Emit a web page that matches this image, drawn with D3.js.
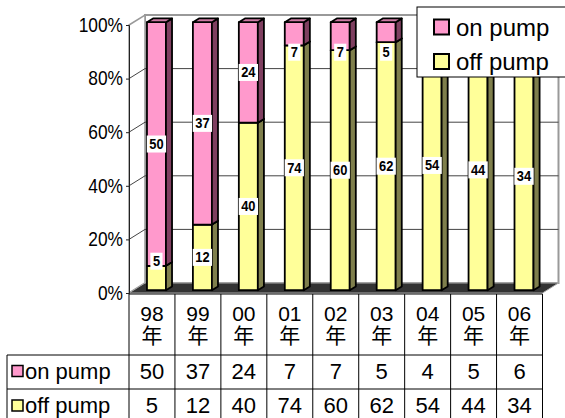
<!DOCTYPE html>
<html><head><meta charset="utf-8">
<script src="https://cdn.jsdelivr.net/npm/d3@7"></script>
<style>body{margin:0;background:#fff}svg{display:block}</style>
</head><body>
<script>
const categories = ["98","99","00","01","02","03","04","05","06"];
const yearSuffix = "年";
const onPump = [50,37,24,7,7,5,4,5,6];
const offPump = [5,12,40,74,60,62,54,44,34];
const yTicks = [0,20,40,60,80,100];
const seriesNames = ["on pump","off pump"];
const seriesColors = {front:["#FF99CC","#FFFF99"], side:["#7F3F60","#7F7F4C"], top:["#CC7AA3","#CCCC7A"]};

const W=565,H=418;
const FONT='"Liberation Sans", Arial, "Noto Sans CJK JP", sans-serif';
const svg=d3.select("body").append("svg").attr("width",W).attr("height",H)
  .style("font-family",FONT);

const x=d3.scaleBand().domain(categories).range([129,542.5]).padding(0);
const y=d3.scaleLinear().domain([0,100]).range([293,25]);
const D={dx:16,dy:-10};
const barW=19, fF=0.28, fB=0.66;
const legendBox={x:417,y:7,w:170,h:70};

const g=svg.append("g");
const bx0=129+D.dx, bx1=542.5+D.dx;
g.append("rect").attr("x",bx0).attr("y",y(100)+D.dy).attr("width",bx1-bx0).attr("height",y(0)-y(100))
 .attr("fill","#fff").attr("stroke","#999").attr("stroke-width",2);
g.append("polygon").attr("points",[[129,y(100)],[bx0,y(100)+D.dy],[bx0,y(0)+D.dy],[129,y(0)]].join(" "))
 .attr("fill","#fff").attr("stroke","#999").attr("stroke-width",1.5);
yTicks.filter(t=>t>0&&t<100).forEach(t=>{
  g.append("line").attr("x1",bx0).attr("x2",bx1).attr("y1",y(t)+D.dy).attr("y2",y(t)+D.dy).attr("stroke","#444").attr("stroke-width",1);
  g.append("line").attr("x1",129).attr("x2",bx0).attr("y1",y(t)).attr("y2",y(t)+D.dy).attr("stroke","#444").attr("stroke-width",1);
});
g.append("polygon").attr("points",[[129,y(0)],[542.5,y(0)],[bx1,y(0)+D.dy],[bx0,y(0)+D.dy]].join(" "))
 .attr("fill","#333").attr("stroke","#aaa").attr("stroke-width",1);

const ax=svg.append("g").attr("transform","translate(129,0)")
  .call(d3.axisLeft(y).tickValues(yTicks).tickFormat(d=>d+"%").tickSize(3).tickPadding(3));
ax.select(".domain").attr("stroke","#222");
ax.selectAll(".tick line").attr("stroke","#222");
ax.selectAll(".tick text").attr("font-size",19.5).attr("fill","#000").attr("font-family",FONT)
  .each(function(){const t=d3.select(this);const xx=+t.attr("x");t.attr("x",0).attr("transform",`translate(${xx},0) scale(0.89,1)`);});

const bars=svg.append("g");
const labels=[];
categories.forEach((c,i)=>{
  const total=onPump[i]+offPump[i];
  const segs=[{v:offPump[i],s:1,lo:0,hi:offPump[i]/total*100},{v:onPump[i],s:0,lo:offPump[i]/total*100,hi:100}];
  const fx=x(c)+(x.bandwidth()-barW)/2;
  segs.forEach((sg,k)=>{
    const ox=D.dx*fF, oy=D.dy*fF, bxx=D.dx*fB, byy=D.dy*fB;
    const x0=fx+ox, x1=fx+ox+barW, yT=y(sg.hi)+oy, yB=y(sg.lo)+oy;
    const dX=bxx-ox, dY=byy-oy;
    bars.append("rect").attr("x",x0).attr("y",yT).attr("width",barW).attr("height",yB-yT)
      .attr("fill",seriesColors.front[sg.s]).attr("stroke","#000").attr("stroke-width",1.8).attr("stroke-linejoin","round");
    bars.append("polygon").attr("points",[[x1,yT],[x1+dX,yT+dY],[x1+dX,yB+dY],[x1,yB]].join(" "))
      .attr("fill",seriesColors.side[sg.s]).attr("stroke","#000").attr("stroke-width",1.8).attr("stroke-linejoin","round");
    bars.append("polygon").attr("points",[[x0,yT],[x0+dX,yT+dY],[x1+dX,yT+dY],[x1,yT]].join(" "))
      .attr("fill",seriesColors.top[sg.s]).attr("stroke","#000").attr("stroke-width",1.8).attr("stroke-linejoin","round");
    let cy=(yT+yB)/2;
    if(k===1) cy=Math.max(cy,y(100)+oy+30); else cy=Math.min(cy,y(0)+oy-29);
    labels.push({x:(x0+x1)/2,y:cy,v:sg.v});
  });
});
const lg=svg.append("g");
labels.forEach(l=>{
  // labels falling under the legend box are hidden by it in the reference
  if(l.x>legendBox.x-12 && l.y<legendBox.y+legendBox.h+9) return;
  const gg=lg.append("g");
  const r=gg.append("rect").attr("fill","#fff");
  const t=gg.append("text").attr("transform",`translate(${l.x},${l.y}) scale(0.92,1)`).attr("text-anchor","middle").attr("dy","0.36em")
    .attr("font-size",14).attr("font-weight","bold").text(l.v);
  const tw=t.node().getComputedTextLength()*0.92;
  r.attr("x",l.x-tw/2-2.5).attr("y",l.y-8.5).attr("width",tw+5).attr("height",17);
});

const tb=svg.append("g").attr("stroke","#000").attr("stroke-width",1);
const tx0=7, txR=542.5, rowY=[294,355,389,424];
tb.append("line").attr("x1",129).attr("x2",txR).attr("y1",rowY[0]).attr("y2",rowY[0]);
tb.append("line").attr("x1",tx0).attr("x2",txR).attr("y1",rowY[1]).attr("y2",rowY[1]);
tb.append("line").attr("x1",tx0).attr("x2",txR).attr("y1",rowY[2]).attr("y2",rowY[2]);
tb.append("line").attr("x1",tx0).attr("x2",tx0).attr("y1",rowY[1]).attr("y2",H);
categories.forEach(c=>{tb.append("line").attr("x1",x(c)).attr("x2",x(c)).attr("y1",rowY[0]).attr("y2",H);});
tb.append("line").attr("x1",txR).attr("x2",txR).attr("y1",rowY[0]).attr("y2",H);

const tt=svg.append("g").attr("fill","#000");
categories.forEach(c=>{
  const cx=x(c)+x.bandwidth()/2;
  tt.append("text").attr("x",cx).attr("y",313).attr("dy","0.36em").attr("text-anchor","middle").attr("font-size",21).text(c);
  tt.append("text").attr("x",cx).attr("y",335).attr("dy","0.36em").attr("text-anchor","middle").attr("font-size",21).text(yearSuffix);
});
const rowsData=[onPump,offPump];
seriesNames.forEach((n,k)=>{
  const cy=(rowY[k+1]+rowY[k+2])/2-1;
  tt.append("rect").attr("x",12).attr("y",cy-5.5).attr("width",11).attr("height",11)
    .attr("fill",seriesColors.front[k]).attr("stroke","#000").attr("stroke-width",1.5);
  tt.append("text").attr("x",25).attr("y",cy).attr("dy","0.36em").attr("font-size",22).text(n);
  rowsData[k].forEach((v,i)=>{
    tt.append("text").attr("x",x(categories[i])+x.bandwidth()/2).attr("y",cy).attr("dy","0.36em")
      .attr("text-anchor","middle").attr("font-size",22).text(v);
  });
});

const leg=svg.append("g");
leg.append("rect").attr("x",legendBox.x).attr("y",legendBox.y).attr("width",legendBox.w).attr("height",legendBox.h).attr("fill","#fff").attr("stroke","#000").attr("stroke-width",1);
seriesNames.forEach((n,k)=>{
  const cy=27+k*34.5;
  leg.append("rect").attr("x",434).attr("y",cy-7.5).attr("width",15).attr("height",15)
    .attr("fill",seriesColors.front[k]).attr("stroke","#000").attr("stroke-width",2);
  leg.append("text").attr("x",456).attr("y",cy).attr("dy","0.36em").attr("font-size",24).text(n);
});
</script>
</body></html>
